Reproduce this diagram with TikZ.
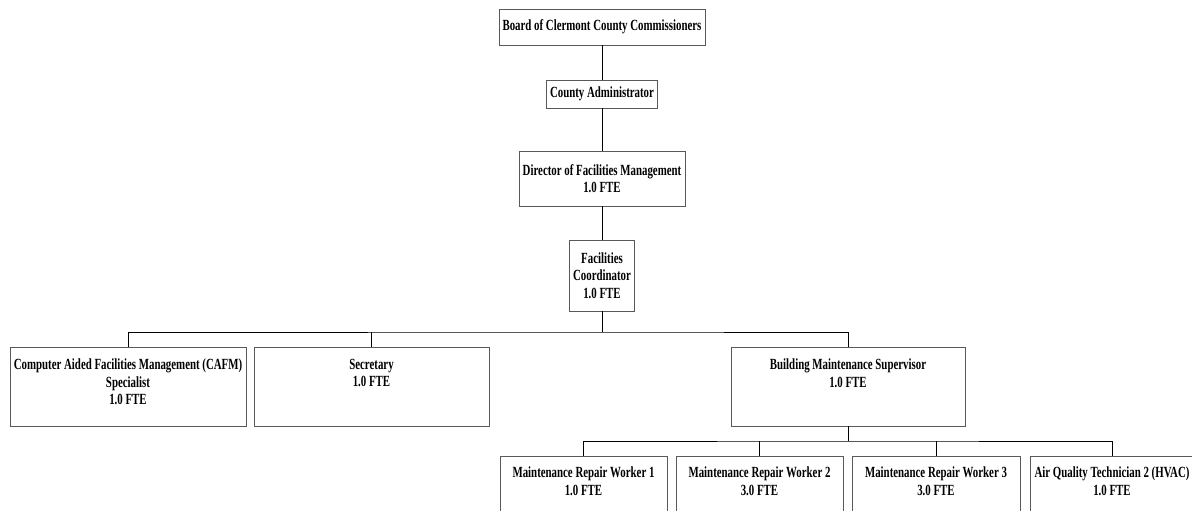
\documentclass[tikz,border=0pt]{standalone}
\usepackage{fontspec}
\newfontfamily\orgfont{Liberation Serif}[FakeStretch=0.70]
\begin{document}
\begin{tikzpicture}[x=1pt,y=-1pt,
  box/.style={draw=black!65, line width=0.8pt, rectangle, inner sep=0pt, align=center,
    font=\orgfont\bfseries\fontsize{15.5}{17.5}\selectfont},
  txt/.style={inner sep=0pt, align=center, anchor=north,
    font=\orgfont\bfseries\fontsize{15.5}{17.5}\selectfont},
  conn/.style={draw=black, line width=0.8pt}]
\useasboundingbox (0,0) rectangle (1192,511);
\clip (0,0) rectangle (1192,511);
% top chain
\node[box, minimum width=206pt, minimum height=36pt] (board) at (602,27) {Board of Clermont County Commissioners};
\node[box, minimum width=111pt, minimum height=28pt] (admin) at (602,94) {County Administrator};
\node[box, minimum width=166pt, minimum height=55pt] (dir) at (602,178.5) {Director of Facilities Management\\1.0 FTE};
\node[box, minimum width=65pt, minimum height=71pt] (fc) at (602,275.5) {Facilities\\Coordinator\\1.0 FTE};
% second level
\node[box, minimum width=236pt, minimum height=79pt] (cafm) at (128,386.5) {};
\node[txt] (cafmt) at ([yshift=-12pt]cafm.north) {Computer Aided Facilities Management (CAFM)\\Specialist\\1.0 FTE};
\node[box, minimum width=235pt, minimum height=79pt] (sec) at (371.5,386.5) {};
\node[txt] (sect) at ([yshift=-12pt]sec.north) {Secretary\\1.0 FTE};
\node[box, minimum width=234pt, minimum height=79pt] (bms) at (848,386.5) {};
\node[txt] (bmst) at ([yshift=-12pt]bms.north) {Building Maintenance Supervisor\\1.0 FTE};
% third level
\node[box, minimum width=167pt, minimum height=79pt] (mrw1) at (583.5,495.5) {};
\node[txt] (mrw1t) at ([yshift=-11pt]mrw1.north) {Maintenance Repair Worker 1\\1.0 FTE};
\node[box, minimum width=167pt, minimum height=79pt] (mrw2) at (759.5,495.5) {};
\node[txt] (mrw2t) at ([yshift=-11pt]mrw2.north) {Maintenance Repair Worker 2\\3.0 FTE};
\node[box, minimum width=168pt, minimum height=79pt] (mrw3) at (936,495.5) {};
\node[txt] (mrw3t) at ([yshift=-11pt]mrw3.north) {Maintenance Repair Worker 3\\3.0 FTE};
\node[box, minimum width=164pt, minimum height=79pt] (aqt) at (1112,495.5) {};
\node[txt] (aqtt) at ([yshift=-11pt]aqt.north) {Air Quality Technician 2 (HVAC)\\1.0 FTE};
% connectors
\coordinate (b1) at (602,332);
\coordinate (b2) at (848,441);
\draw[conn] (board.south) -- (admin.north);
\draw[conn] (admin.south) -- (dir.north);
\draw[conn] (dir.south) -- (fc.north);
\draw[conn] (fc.south) -- (b1);
\draw[conn] (cafm.north) |- (b1) -| (bms.north);
\draw[conn] (sec.north) -- (sec.north |- b1);
\draw[conn] (bms.south) -- (b2);
\draw[conn] (mrw1.north) |- (b2) -| (aqt.north);
\draw[conn] (mrw2.north) -- (mrw2.north |- b2);
\draw[conn] (mrw3.north) -- (mrw3.north |- b2);
\end{tikzpicture}
\end{document}
